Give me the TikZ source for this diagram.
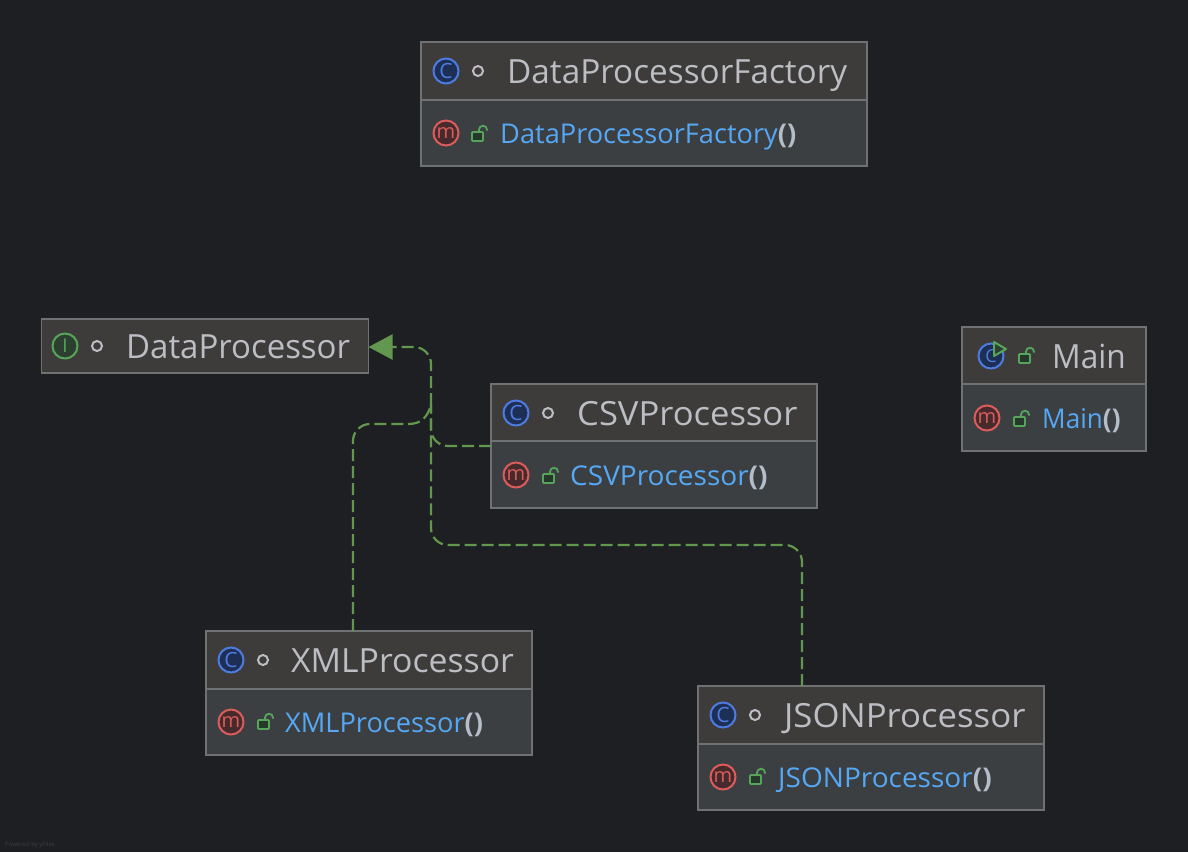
\documentclass[tikz,border=0pt]{standalone}
\usepackage{graphicx}
\usepackage{fontspec}
\setmainfont{Open Sans}
\usetikzlibrary{arrows.meta,calc}
\definecolor{bg}{HTML}{1E1F22}
\definecolor{hdr}{HTML}{3D3C3B}
\definecolor{bdy}{HTML}{3B3F42}
\definecolor{edge}{HTML}{707172}
\definecolor{ttl}{HTML}{BCBEC4}
\definecolor{mth}{HTML}{56A8F5}
\definecolor{par}{HTML}{B4BEC8}
\definecolor{dep}{HTML}{62974F}
\definecolor{cblue}{HTML}{4D7BE0}
\definecolor{cbluef}{HTML}{1E2F55}
\definecolor{mred}{HTML}{DB5C5C}
\definecolor{mredf}{HTML}{472B2C}
\definecolor{igreen}{HTML}{57A55A}
\definecolor{igreenf}{HTML}{2C3F30}
\definecolor{lockg}{HTML}{57A55A}
\definecolor{lockf}{HTML}{26382A}
\tikzset{
  x=1pt,y=-1pt,
  boxhdr/.style={draw=edge,line width=1.5pt,fill=hdr,inner sep=0pt,outer sep=0pt,anchor=north west},
  boxbdy/.style={draw=edge,line width=1.5pt,fill=bdy,inner sep=0pt,outer sep=0pt,anchor=north west},
  title/.style={text=ttl,font=\fontsize{33.3}{33}\selectfont,anchor=base west,inner sep=0pt},
  method/.style={text=mth,font=\fontsize{27.2}{27}\selectfont,anchor=base west,inner sep=0pt},
  depline/.style={draw=dep,line width=2.2pt,dash pattern=on 12pt off 5pt,rounded corners=17pt},
  icon/.style={line width=2pt,circle,minimum size=25pt,inner sep=0pt},
  iconc/.style={icon,draw=cblue,fill=cbluef,text=cblue,font=\fontsize{21}{21}\selectfont},
  iconm/.style={icon,draw=mred,fill=mredf,text=mred,font=\fontsize{20}{20}\selectfont},
  iconi/.style={icon,draw=igreen,fill=igreenf,text=igreen},
  dotmark/.style={circle,draw=ttl,line width=2pt,minimum size=10pt,inner sep=0pt},
}
\newcommand{\lockicon}[2]{%
  \draw[lockg,line width=1.8pt,fill=lockf,rounded corners=0.8pt] (#1-7,#2-2) rectangle (#1+4,#2+7);
  \draw[lockg,line width=1.8pt] (#1,#2-2) -- (#1,#2-4.3) arc[start angle=180,end angle=0,radius=4pt] -- (#1+8,#2-3.5);
}
\newcommand{\umlbox}[6]{% name x y width headerH bodyH
  \node[boxhdr,minimum width=#4pt,minimum height=#5pt] (#1h) at (#2,#3) {};
  \node[boxbdy,minimum width=#4pt,minimum height=#6pt] (#1b) at (#2,#3+#5) {};
}
\newcommand{\pars}{\textcolor{par}{\bfseries()}}
\newcommand{\fitx}[2]{\scalebox{#1}[1]{#2}}
\begin{document}
\begin{tikzpicture}
\useasboundingbox[fill=bg] (0,0) rectangle (1188,852);

% Factory
\umlbox{fac}{421}{42}{446}{58}{66}
\node[iconc] (facci) at (446,71) {C};
\node[dotmark] (facd) at (478,71) {};
\node[title] (fact) at (507,83) {DataProcessorFactory};
\node[iconm] (facmi) at (446,133) {m};
\lockicon{479}{134}
\node[method] (facm) at (500,143) {DataProcessorFactory\pars};

% Interface
\node[boxhdr,minimum width=327pt,minimum height=54pt] (dp) at (41.5,319) {};
\node[iconi,font=\fontsize{19}{19}\selectfont] (dpi) at (65,346) {I};
\node[dotmark] (dpd) at (97,346) {};
\node[title] (dpt) at (126,358) {\fitx{0.99}{DataProcessor}};

% CSV
\umlbox{csv}{491}{384}{326}{57}{67}
\node[iconc] (csvci) at (516,413) {C};
\node[dotmark] (csvd) at (548,413) {};
\node[title] (csvt) at (577,425) {\fitx{1.038}{CSVProcessor}};
\node[iconm] (csvmi) at (516,475) {m};
\lockicon{550}{476}
\node[method] (csvm) at (570,485) {\fitx{1.03}{CSVProcessor\pars}};

% Main
\umlbox{mn}{962}{327}{184}{57}{67}
\node[iconc,font=\fontsize{18}{18}\selectfont] (mnci) at (991,356) {C};
\draw[draw=igreen,fill=igreenf,line width=2pt,line join=round] (994,342) -- (1006,349) -- (994,356) -- cycle;
\lockicon{1026}{356}
\node[title] (mnt) at (1052,368) {\fitx{0.95}{Main}};
\node[iconm] (mnmi) at (987,418) {m};
\lockicon{1021}{419}
\node[method] (mnm) at (1042,428) {\fitx{0.96}{Main\pars}};

% XML
\umlbox{xml}{206}{631}{326}{58}{66}
\node[iconc] (xmlci) at (231,660) {C};
\node[dotmark] (xmld) at (263,660) {};
\node[title] (xmlt) at (291,672) {\fitx{1.014}{XMLProcessor}};
\node[iconm] (xmlmi) at (231,722) {m};
\lockicon{265}{722}
\node[method] (xmlm) at (285,732) {XMLProcessor\pars};

% JSON
\umlbox{jsn}{698}{686}{346}{58}{66}
\node[iconc] (jsnci) at (723,715) {C};
\node[dotmark] (jsnd) at (755,715) {};
\node[title] (jsnt) at (784,727) {\fitx{1.043}{JSONProcessor}};
\node[iconm] (jsnmi) at (723,777) {m};
\lockicon{757}{777}
\node[method] (jsnm) at (778,787) {\fitx{1.03}{JSONProcessor\pars}};

% Connectors
\coordinate (trunk) at (431,347);
\coordinate (xmlx) at (353,631);
\coordinate (jsnx) at (802,686);
\coordinate (csvy) at (491,446);
\coordinate (merge) at (431,405);
\draw[depline,-{Triangle[length=24pt,width=25pt,fill=dep]}] (merge) -- (trunk) -- (dp.east |- trunk);
\draw[depline] (jsnx |- jsnh.north) -- (802,545) -- (431,545) -- (merge);
\draw[depline] (csvh.west |- csvy) -- (431,446) -- (merge);
\draw[depline] (xmlx |- xmlh.north) -- (353,424) -- (408,424);
\draw[depline] (408,424) .. controls (421,424) and (427,418) .. (merge);

% Watermark
\node[text=black!15!bg!85!white,font=\fontsize{6}{6}\selectfont,anchor=base west,inner sep=0pt] (wm) at (5,846) {Powered by yFiles};
\end{tikzpicture}
\end{document}
